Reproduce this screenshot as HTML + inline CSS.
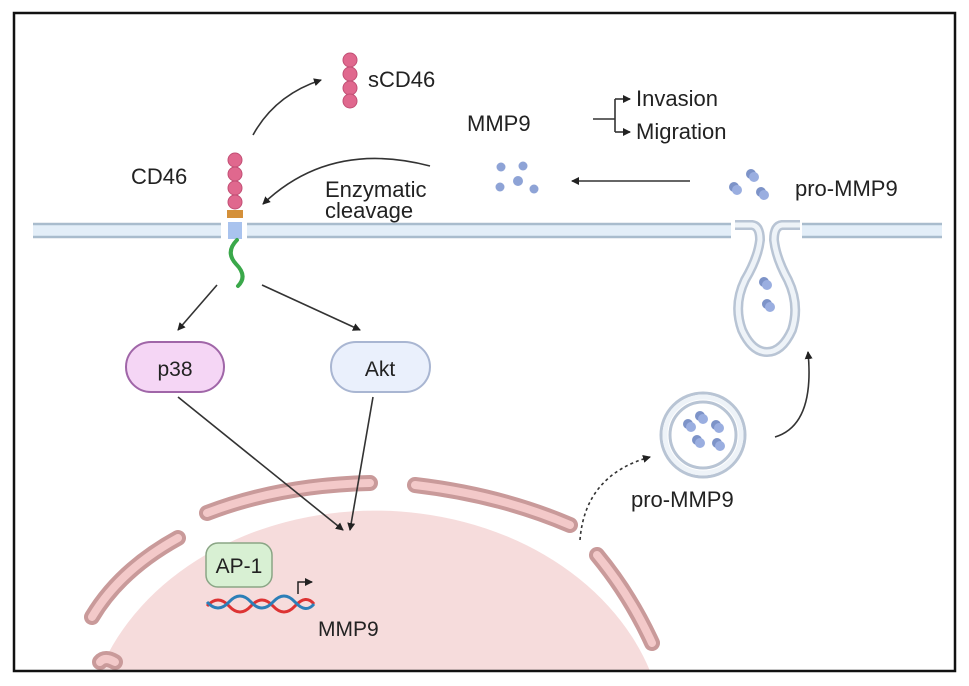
<!DOCTYPE html>
<html><head><meta charset="utf-8"><style>
html,body{margin:0;padding:0;background:#fff;width:969px;height:686px;overflow:hidden}
svg{display:block}
text{font-family:"Liberation Sans",Arial,sans-serif;fill:#222}
</style></head><body>
<svg width="969" height="686" viewBox="0 0 969 686" xmlns="http://www.w3.org/2000/svg">
<defs>
<marker id="ah" markerWidth="8" markerHeight="8" refX="7" refY="4" orient="auto" markerUnits="userSpaceOnUse"><path d="M0,0 L8,4 L0,8 Z" fill="#222"/></marker>
<g id="pm"><circle cx="0" cy="0" r="5" fill="#7d93c8"/><circle cx="3" cy="3" r="5" fill="#9aaee0"/></g>
</defs>
<rect x="0" y="0" width="969" height="686" fill="#fff"/>
<path d="M100 671 A290 235 0 0 1 650 671 Z" fill="#f6dcdc"/>
<g fill="none" stroke-linecap="round">
<g stroke="#c99a9a" stroke-width="16">
<path d="M92 617 Q120 570 178 538"/>
<path d="M207 513 Q280 485 370 483"/>
<path d="M415 485 Q500 495 570 525"/>
<path d="M597 555 Q630 595 652 643"/>
<path d="M100 662 Q105 656 115 662"/>
</g>
<g stroke="#f3c9c9" stroke-width="8">
<path d="M92 617 Q120 570 178 538"/>
<path d="M207 513 Q280 485 370 483"/>
<path d="M415 485 Q500 495 570 525"/>
<path d="M597 555 Q630 595 652 643"/>
<path d="M100 662 Q105 656 115 662"/>
</g>
</g>
<g>
<rect x="33" y="223" width="188" height="15" fill="#e3eef8"/>
<rect x="247" y="223" width="484" height="15" fill="#e3eef8"/>
<rect x="802" y="223" width="140" height="15" fill="#e3eef8"/>
<g stroke="#a9bccd" stroke-width="2.5">
<line x1="33" y1="224" x2="221" y2="224"/><line x1="33" y1="237" x2="221" y2="237"/>
<line x1="247" y1="224" x2="731" y2="224"/><line x1="247" y1="237" x2="731" y2="237"/>
<line x1="802" y1="224" x2="942" y2="224"/><line x1="802" y1="237" x2="942" y2="237"/>
</g>
</g>
<path d="M735 225 L752 225 Q760 226 760 240 Q758 258 745 280 Q733 305 742 330 Q752 352 767 352 Q782 352 792 330 Q800 305 788 280 Q776 258 774 240 Q774 226 782 225 L800 225" fill="none" stroke="#b8c4d4" stroke-width="10"/>
<path d="M735 225 L752 225 Q760 226 760 240 Q758 258 745 280 Q733 305 742 330 Q752 352 767 352 Q782 352 792 330 Q800 305 788 280 Q776 258 774 240 Q774 226 782 225 L800 225" fill="none" stroke="#eef3f8" stroke-width="5"/>
<use href="#pm" x="764" y="282"/><use href="#pm" x="767" y="304"/>
<circle cx="703" cy="435" r="42" fill="#fff" stroke="#b8c4d4" stroke-width="3"/>
<circle cx="703" cy="435" r="33" fill="none" stroke="#b8c4d4" stroke-width="3"/>
<circle cx="703" cy="435" r="38" fill="none" stroke="#eef3f8" stroke-width="5"/>
<use href="#pm" x="688" y="424"/><use href="#pm" x="700" y="416"/><use href="#pm" x="716" y="425"/>
<use href="#pm" x="697" y="440"/><use href="#pm" x="717" y="443"/>
<use href="#pm" x="751" y="174"/><use href="#pm" x="734" y="187"/><use href="#pm" x="761" y="192"/>
<g fill="#8ea3d6"><circle cx="501" cy="167" r="4.5"/><circle cx="523" cy="166" r="4.5"/><circle cx="518" cy="181" r="5"/><circle cx="500" cy="187" r="4.5"/><circle cx="534" cy="189" r="4.5"/></g>
<g fill="#e0688e" stroke="#c24f75" stroke-width="1"><circle cx="235" cy="160" r="7"/><circle cx="235" cy="174" r="7"/><circle cx="235" cy="188" r="7"/><circle cx="235" cy="202" r="7"/></g>
<rect x="227" y="210" width="16" height="8" fill="#d4903a"/>
<rect x="228" y="222" width="14" height="17" fill="#a9c3ee"/>
<path d="M237 240 Q225 252 236 264 Q248 276 238 286" fill="none" stroke="#3aa84a" stroke-width="4" stroke-linecap="round"/>
<g fill="#e0688e" stroke="#c24f75" stroke-width="1"><circle cx="350" cy="60" r="7"/><circle cx="350" cy="74" r="7"/><circle cx="350" cy="88" r="7"/><circle cx="350" cy="101" r="7"/></g>
<rect x="14" y="13" width="941" height="658" fill="none" stroke="#111" stroke-width="2.5"/>
<g fill="none" stroke="#333" stroke-width="1.6">
<path d="M253 135 Q275 95 321 80" marker-end="url(#ah)"/>
<path d="M430 166 Q330 140 263 204" marker-end="url(#ah)"/>
<path d="M690 181 L572 181" marker-end="url(#ah)"/>
<path d="M593 119 L615 119 M615 99 L615 132"/>
<path d="M615 99 L630 99" marker-end="url(#ah)"/><path d="M615 132 L630 132" marker-end="url(#ah)"/>
<path d="M217 285 L178 330" marker-end="url(#ah)"/>
<path d="M262 285 L360 330" marker-end="url(#ah)"/>
<path d="M178 397 L343 530" marker-end="url(#ah)"/>
<path d="M373 397 L350 530" marker-end="url(#ah)"/>
<path d="M775 437 Q815 425 808 352" marker-end="url(#ah)"/>
<path d="M580 540 Q585 475 650 457" stroke-dasharray="3,3" marker-end="url(#ah)"/>
</g>
<rect x="126" y="342" width="98" height="50" rx="25" fill="#f5d6f5" stroke="#a066a8" stroke-width="2"/>
<text x="175" y="376" font-size="21" text-anchor="middle">p38</text>
<rect x="331" y="342" width="99" height="50" rx="25" fill="#eaf0fc" stroke="#a9b6d2" stroke-width="2"/>
<text x="380" y="376" font-size="21" text-anchor="middle">Akt</text>
<rect x="206" y="543" width="66" height="44" rx="12" fill="#d8f0d3" stroke="#8aa585" stroke-width="1.5"/>
<text x="239" y="573" font-size="21" text-anchor="middle">AP-1</text>
<g fill="none" stroke-width="3">
<path d="M207 606 Q218 594 229 606 T251 606 T273 606 T295 606 T314 604" stroke="#d33"/>
<path d="M207 602 Q218 614 229 602 T251 602 T273 602 T295 602 T314 604" stroke="#2c7fb8"/>
</g>
<path d="M298 594 L298 582 L312 582" fill="none" stroke="#222" stroke-width="1.5" marker-end="url(#ah)"/>
<text x="131" y="184" font-size="22">CD46</text>
<text x="368" y="87" font-size="22">sCD46</text>
<text x="467" y="131" font-size="22">MMP9</text>
<text x="636" y="106" font-size="22">Invasion</text>
<text x="636" y="139" font-size="22">Migration</text>
<text x="325" y="197" font-size="22">Enzymatic</text>
<text x="325" y="218" font-size="22">cleavage</text>
<text x="795" y="196" font-size="22">pro-MMP9</text>
<text x="631" y="507" font-size="22">pro-MMP9</text>
<text x="318" y="636" font-size="21">MMP9</text>
</svg>
</body></html>
